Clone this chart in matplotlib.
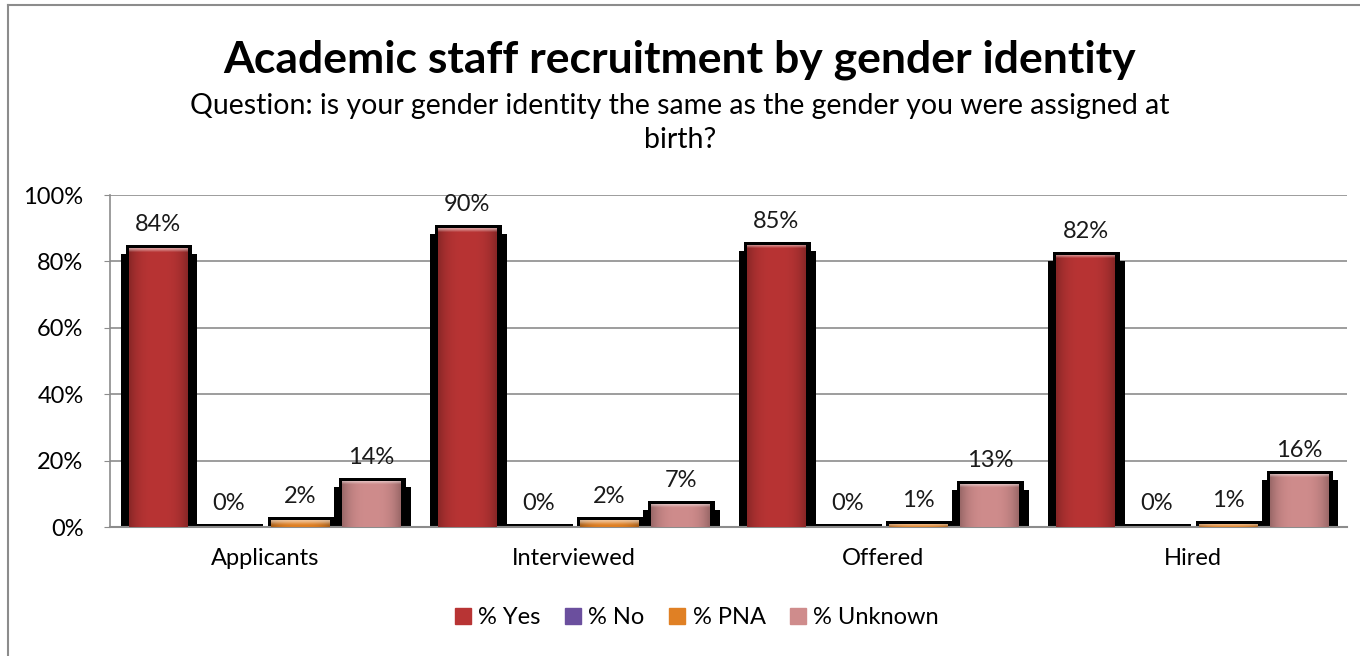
import numpy as np
import matplotlib
matplotlib.use('Agg')
import matplotlib.pyplot as plt
from matplotlib.colors import to_rgb
from matplotlib.lines import Line2D
from matplotlib.patches import Patch

categories = ['Applicants', 'Interviewed', 'Offered', 'Hired']
series_names = ['% Yes', '% No', '% PNA', '% Unknown']
yes_vals = [84, 90, 85, 82]
no_vals = [0, 0, 0, 0]
pna_vals = [2, 2, 1, 1]
unknown_vals = [14, 7, 13, 16]
y_ticks = [0, 20, 40, 60, 80, 100]

colors = ['#B83434', '#6B4F9E', '#E08024', '#CF8C8C']

plt.rcParams['font.family'] = ['Lato', 'DejaVu Sans']
Fontsize = 17

W, H = 1360, 656
fig = plt.figure(figsize=(W / 100, H / 100), dpi=100)
ax = fig.add_axes([110 / W, 1 - 527 / H, 1237 / W, 332 / H])

x = np.arange(len(categories))
offsets = [-0.345, -0.115, 0.115, 0.345]
width = 0.19
px = 1 / 309.0   # one pixel in x data units
py = 100 / 332.0  # one pixel in y data units


def glossy(col, nx=40, ny=60):
    # light centre, darker sides and a pale rim along the top
    base = np.array(to_rgb(col))
    u = np.linspace(-1, 1, nx)
    side = 1 - 0.25 * np.abs(u) ** 3
    img = np.ones((ny, nx, 3)) * base
    img = img * side[None, :, None]
    rim = np.zeros(ny)
    rim[:4] = [0.5, 0.4, 0.25, 0.1]
    img = img + (1 - img) * rim[:, None, None]
    return np.clip(img, 0, 1)


all_vals = [yes_vals, no_vals, pna_vals, unknown_vals]
for vals, off, col in zip(all_vals, offsets, colors):
    vals = np.array(vals, dtype=float)
    pos = x + off
    # dark drop shadow behind each bar
    ax.bar(pos + 1 * px, np.maximum(vals - 6 * py, 0) + 1.5 * py, width=width + 18 * px,
           bottom=-1.5 * py, color='black', zorder=2)
    ax.bar(pos + 1 * px, vals + 3 * py + 1.5 * py, width=width + 8 * px,
           bottom=-1.5 * py, color='black', zorder=2)
    bars = ax.bar(pos, vals, width=width, color=col, zorder=3, linewidth=0)
    for b, v in zip(bars, vals):
        if v > 0:
            ny = max(int(v / py), 4)
            im = ax.imshow(glossy(col, ny=ny), extent=[b.get_x(), b.get_x() + width, 0, v],
                           aspect='auto', zorder=3.5, interpolation='bilinear')
            im.set_clip_path(b)
    for p, v in zip(pos, vals):
        ax.text(p, v + 17 * py, '{0:.0f}%'.format(v), ha='center', va='baseline',
                fontsize=Fontsize, color='#1a1a1a', zorder=5)

ax.set_xlim(-0.5, 3.5)
ax.set_ylim(0, 100)
ax.set_yticks(y_ticks)
ax.set_yticklabels(['{0}%'.format(t) for t in y_ticks], fontsize=Fontsize)
ax.set_xticks(x)
ax.set_xticklabels(categories, fontsize=Fontsize)
ax.tick_params(axis='x', length=0, pad=15)
ax.tick_params(axis='y', length=4, color='#8c8c8c', pad=15)
ax.yaxis.grid(True, color='#8c8c8c', linewidth=1.2, zorder=1)
ax.set_axisbelow(True)
for s in ['top', 'right']:
    ax.spines[s].set_visible(False)
ax.spines['left'].set_color('#8c8c8c')
ax.spines['bottom'].set_color('#8c8c8c')
ax.spines['left'].set_linewidth(1.2)
ax.spines['bottom'].set_linewidth(1.5)

fig.text(0.5, 1 - 72 / H, 'Academic staff recruitment by gender identity',
         ha='center', va='baseline', fontsize=32, fontweight='bold')
fig.text(0.5, 1 - 114 / H, 'Question: is your gender identity the same as the gender you were assigned at',
         ha='center', va='baseline', fontsize=20.5)
fig.text(0.5, 1 - 148 / H, 'birth?', ha='center', va='baseline', fontsize=20.5)

handles = [Patch(facecolor=c, edgecolor=c) for c in colors]
fig.legend(handles, series_names, loc='center', bbox_to_anchor=(697 / W, 1 - 618 / H),
           ncol=4, frameon=False, fontsize=Fontsize, handlelength=0.68, handleheight=0.68,
           handletextpad=0.3, columnspacing=1.05, borderpad=0)

# chart frame lines along the top and left edges
fig.add_artist(Line2D([8 / W, 1], [1 - 5 / H, 1 - 5 / H], color='#8c8c8c', linewidth=1.5))
fig.add_artist(Line2D([8 / W, 8 / W], [0, 1 - 5 / H], color='#8c8c8c', linewidth=1.5))

fig.savefig('out.png', dpi=100)
